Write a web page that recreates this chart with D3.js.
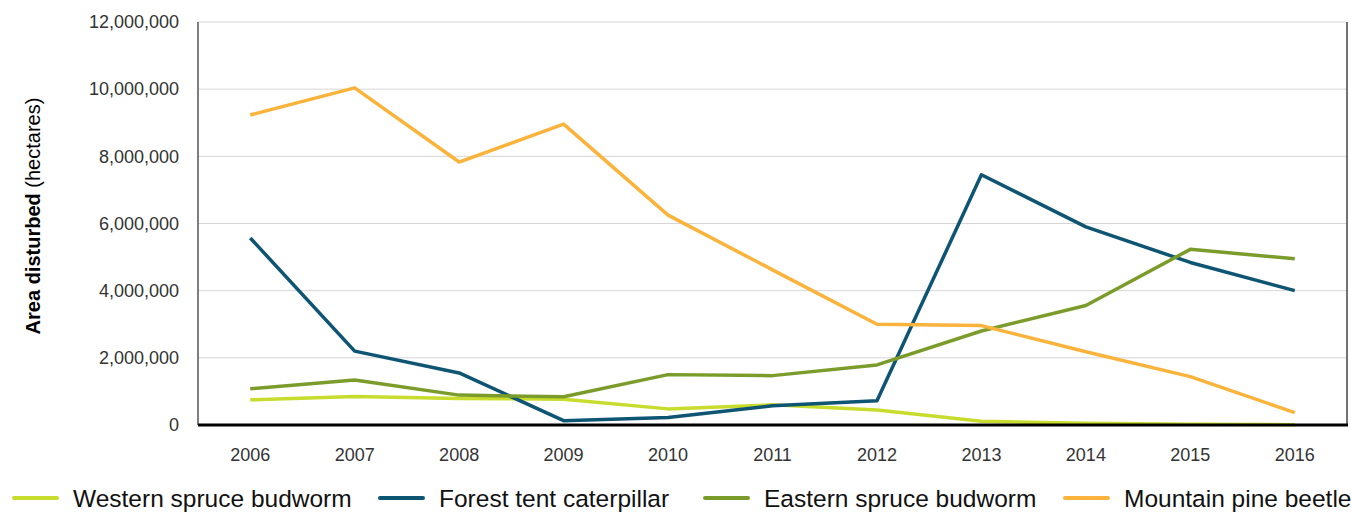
<!DOCTYPE html>
<html><head><meta charset="utf-8">
<script src="https://cdn.jsdelivr.net/npm/d3@7"></script>
<style>
html,body{margin:0;padding:0;background:#fff;}
svg{display:block;font-family:"Liberation Sans",Arial,Helvetica,sans-serif;}
</style></head>
<body>
<svg id="chart" width="1351" height="512"></svg>
<script>
const years = ["2006","2007","2008","2009","2010","2011","2012","2013","2014","2015","2016"];
const seriesNames = ["Western spruce budworm","Forest tent caterpillar","Eastern spruce budworm","Mountain pine beetle"];
const seriesColors = ["#c8dc2e","#0e5473","#7b9c2b","#fcb33c"];
const westernSpruce = [750000,850000,790000,770000,480000,600000,450000,110000,50000,20000,10000];
const forestTent = [5570000,2200000,1550000,130000,220000,570000,720000,7450000,5900000,4840000,4000000];
const easternSpruce = [1080000,1340000,890000,840000,1500000,1470000,1790000,2800000,3560000,5230000,4950000];
const mountainPine = [9230000,10040000,7830000,8960000,6250000,4620000,3000000,2960000,2180000,1440000,370000];
const yTicks = [0,2000000,4000000,6000000,8000000,10000000,12000000];
const seriesValues = [westernSpruce, forestTent, easternSpruce, mountainPine];

const svg = d3.select("#chart");
const mLeft = 198, mRight = 1347, mTop = 22, mBottom = 425;

const x = d3.scaleBand().domain(years).range([mLeft, mRight]);
const y = d3.scaleLinear().domain([0, 12000000]).range([mBottom, mTop]);
const fmt = d3.format(",");

// gridlines
svg.append("g").selectAll("line").data(yTicks.filter(d => d > 0)).join("line")
  .attr("x1", mLeft).attr("x2", mRight)
  .attr("y1", d => y(d)).attr("y2", d => y(d))
  .attr("stroke", "#d6d6d6").attr("stroke-width", 1);

// y tick labels
const yAxis = svg.append("g").attr("transform", `translate(${mLeft},0)`)
  .call(d3.axisLeft(y).tickValues(yTicks).tickFormat(fmt).tickSize(0).tickPadding(19));
yAxis.select(".domain").remove();
yAxis.selectAll("text").attr("font-size", 18).attr("fill", "#333").attr("font-family", "Liberation Sans, Arial, sans-serif");

// x tick labels
const xAxis = svg.append("g").attr("transform", `translate(0,${mBottom})`)
  .call(d3.axisBottom(x).tickSize(0).tickPadding(23));
xAxis.select(".domain").remove();
xAxis.selectAll("text").attr("font-size", 18).attr("fill", "#333").attr("font-family", "Liberation Sans, Arial, sans-serif");

// axis lines
svg.append("line").attr("x1", mLeft).attr("x2", mLeft).attr("y1", mTop).attr("y2", mBottom)
  .attr("stroke", "#555").attr("stroke-width", 1.5);
svg.append("line").attr("x1", mRight).attr("x2", mRight).attr("y1", mTop).attr("y2", mBottom)
  .attr("stroke", "#444").attr("stroke-width", 1.5);

// lines
const line = d3.line()
  .x((d, i) => x(years[i]) + x.bandwidth() / 2)
  .y(d => y(d));
svg.append("g").selectAll("path").data(seriesValues).join("path")
  .attr("d", d => line(d))
  .attr("fill", "none")
  .attr("stroke", (d, i) => seriesColors[i])
  .attr("stroke-width", 3.5)
  .attr("stroke-linejoin", "round");

svg.append("line").attr("x1", mLeft).attr("x2", mRight + 1).attr("y1", mBottom).attr("y2", mBottom)
  .attr("stroke", "#000").attr("stroke-width", 3);

// y title
const yt = svg.append("text")
  .attr("transform", `translate(40,216) rotate(-90)`)
  .attr("text-anchor", "middle")
  .attr("font-size", 20).attr("fill", "#000");
yt.append("tspan").attr("font-weight", "bold").text("Area disturbed");
yt.append("tspan").text(" (hectares)");

// legend
const legendX = [14, 380, 705, 1065];
const lg = svg.append("g").selectAll("g").data(seriesNames).join("g")
  .attr("transform", (d, i) => `translate(${legendX[i]},498)`);
lg.append("line").attr("x1", 0).attr("x2", 43).attr("y1", 0).attr("y2", 0)
  .attr("stroke", (d, i) => seriesColors[i]).attr("stroke-width", 4).attr("stroke-linecap", "round");
lg.append("text").attr("x", 59).attr("y", 9)
  .attr("font-size", 24.5).attr("fill", "#111").text(d => d);
</script>
</body></html>
